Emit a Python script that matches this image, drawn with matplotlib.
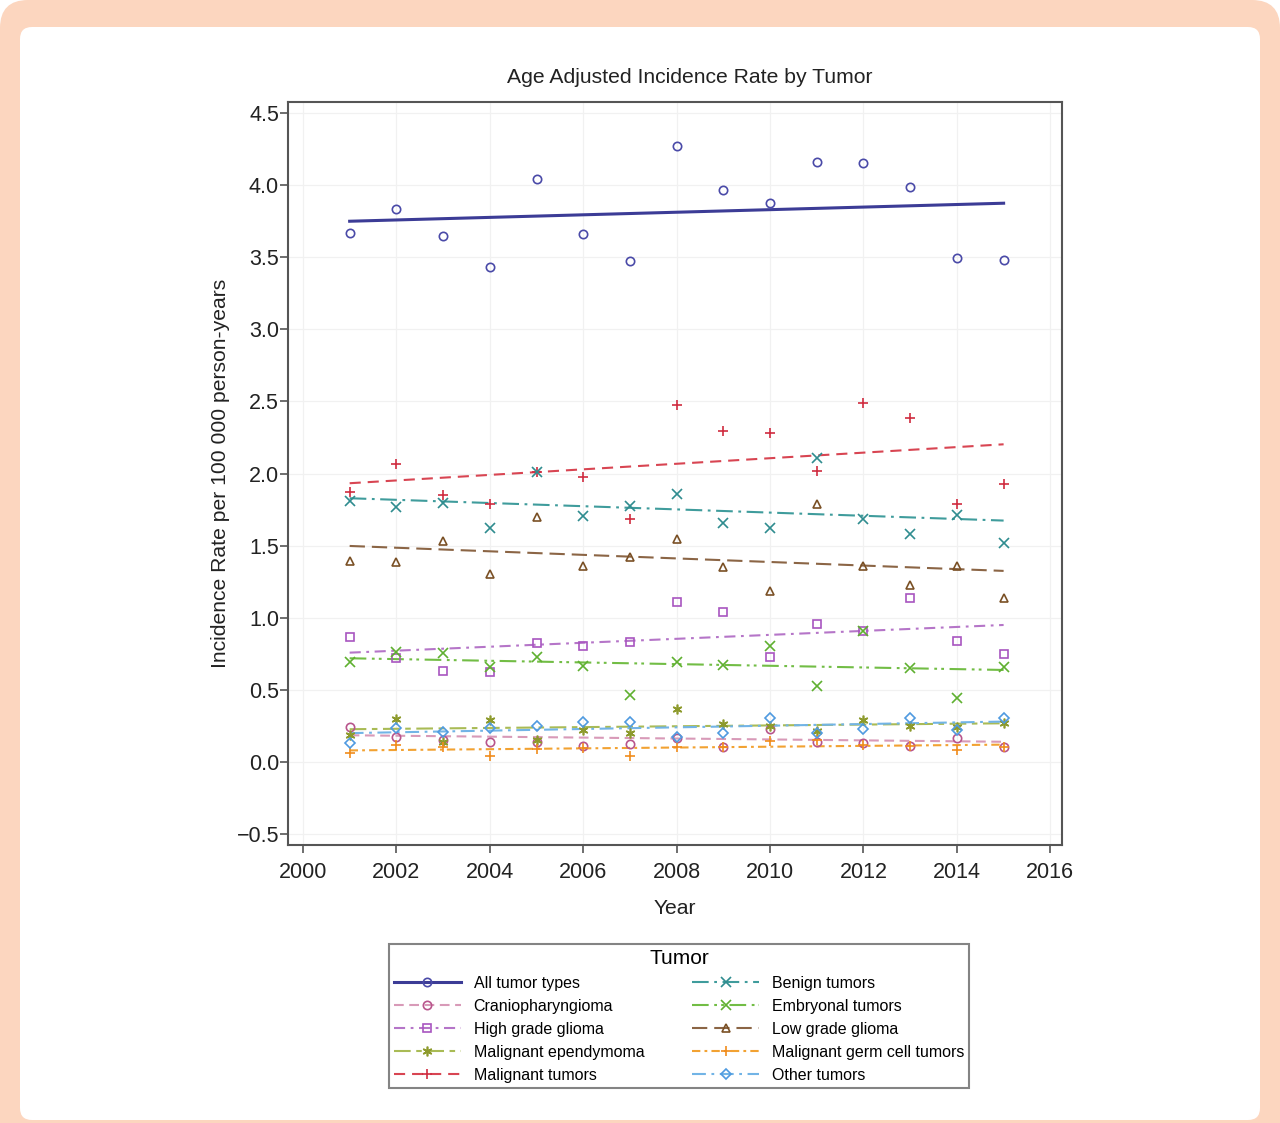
import matplotlib
matplotlib.use("Agg")
import matplotlib.pyplot as plt
from matplotlib.lines import Line2D
from matplotlib.patches import FancyBboxPatch
from matplotlib.transforms import IdentityTransform

plt.rcParams['font.family'] = ['Liberation Sans', 'DejaVu Sans']
plt.rcParams['lines.scale_dashes'] = False

years = list(range(2001, 2016))
trend_years = [2001, 2015]

all_tumor = [3.67, 3.835, 3.65, 3.43, 4.04, 3.66, 3.475, 4.27, 3.97, 3.875, 4.16, 4.155, 3.99, 3.495, 3.48]
cranio = [0.245, 0.176, 0.15, 0.141, 0.137, 0.113, 0.123, 0.164, 0.106, 0.229, 0.141, 0.13, 0.113, 0.169, 0.106]
high_grade = [0.865, 0.719, 0.633, 0.622, 0.823, 0.804, 0.83, 1.112, 1.038, 0.73, 0.957, 0.908, 1.14, 0.839, 0.747]
ependymoma = [0.19, 0.298, 0.141, 0.291, 0.153, 0.222, 0.2, 0.367, 0.261, 0.25, 0.215, 0.291, 0.252, 0.24, 0.268]
malignant = [1.875, 2.065, 1.85, 1.787, 2.013, 1.979, 1.685, 2.476, 2.295, 2.28, 2.02, 2.49, 2.385, 1.787, 1.928]
benign = [1.812, 1.771, 1.798, 1.62, 2.009, 1.706, 1.778, 1.856, 1.655, 1.62, 2.11, 1.683, 1.579, 1.713, 1.521]
embryonal = [0.691, 0.765, 0.754, 0.661, 0.73, 0.666, 0.465, 0.696, 0.673, 0.807, 0.527, 0.905, 0.654, 0.446, 0.661]
low_grade = [1.394, 1.385, 1.535, 1.304, 1.701, 1.361, 1.419, 1.544, 1.355, 1.186, 1.787, 1.361, 1.227, 1.361, 1.135]
germ_cell = [0.06, 0.118, 0.106, 0.044, 0.09, 0.099, 0.042, 0.106, 0.106, 0.146, 0.15, 0.12, 0.113, 0.083, 0.106]
other = [0.13, 0.234, 0.206, 0.234, 0.252, 0.275, 0.28, 0.17, 0.2, 0.307, 0.2, 0.229, 0.307, 0.222, 0.307]

# fitted trend values at 2001 and 2015
trend_all = [3.75, 3.875]
trend_cranio = [0.185, 0.14]
trend_high = [0.758, 0.95]
trend_epend = [0.227, 0.268]
trend_malig = [1.933, 2.203]
trend_benign = [1.829, 1.674]
trend_embryo = [0.719, 0.638]
trend_low = [1.498, 1.325]
trend_germ = [0.08, 0.12]
trend_other = [0.2, 0.28]

labels = ["All tumor types", "Craniopharyngioma", "High grade glioma", "Malignant ependymoma",
          "Malignant tumors", "Benign tumors", "Embryonal tumors", "Low grade glioma",
          "Malignant germ cell tumors", "Other tumors"]
values = [all_tumor, cranio, high_grade, ependymoma, malignant, benign, embryonal, low_grade, germ_cell, other]
trends = [trend_all, trend_cranio, trend_high, trend_epend, trend_malig, trend_benign, trend_embryo,
          trend_low, trend_germ, trend_other]

styles = [
    dict(color='#3c3c96', mcolor='#4a4aa8', ls='-', marker='o', lw=2.2),
    dict(color='#d89ab8', mcolor='#b8558c', ls=(0, (7, 4)), marker='o', lw=1.5),
    dict(color='#b575c8', mcolor='#a855c0', ls=(0, (8, 4, 2, 4)), marker='s', lw=1.5),
    dict(color='#a9bb55', mcolor='#8d9a2c', ls=(0, (12, 4, 4, 4)), marker=(6, 2, 0), lw=1.5),
    dict(color='#d84552', mcolor='#d02c40', ls=(0, (8, 5)), marker='+', lw=1.5),
    dict(color='#3f9c9c', mcolor='#2f8c8f', ls=(0, (12, 4, 2, 4)), marker='x', lw=1.5),
    dict(color='#72bd45', mcolor='#5fb030', ls=(0, (12, 4, 2, 3, 2, 4)), marker='x', lw=1.5),
    dict(color='#8b6545', mcolor='#7a5025', ls=(0, (11, 5)), marker='^', lw=1.5),
    dict(color='#f2a232', mcolor='#f08c1c', ls=(0, (6, 3, 2, 3)), marker='+', lw=1.5),
    dict(color='#72b4e6', mcolor='#4f9ae0', ls=(0, (10, 4, 2, 4)), marker='D', lw=1.5),
]

fig = plt.figure(figsize=(12.8, 11.23), dpi=100)
fig.patch.set_facecolor('white')
# peach frame and white card
fig.patches.append(FancyBboxPatch((0, -60), 1280, 1123 + 60, boxstyle="round,pad=0,rounding_size=28",
                                  transform=IdentityTransform(), facecolor='#fcd6bf', edgecolor='none', zorder=-10))
fig.patches.append(FancyBboxPatch((20, 3), 1240, 1123 - 27 - 3, boxstyle="round,pad=0,rounding_size=12",
                                  transform=IdentityTransform(), facecolor='white', edgecolor='none', zorder=-9))

ax = fig.add_axes([288 / 1280, 1 - 845 / 1123, (1062 - 288) / 1280, (845 - 102) / 1123])
ax.set_facecolor('white')

handles = []
for lab, v, tr, st in zip(labels, values, trends, styles):
    ms = 6 if st['marker'] not in ('+', 'x', (6, 2, 0)) else 7
    if st['marker'] == 'D':
        ms = 5.5
    ax.plot(trend_years, tr, color=st['color'], linestyle=st['ls'], lw=st['lw'], zorder=2)
    ax.plot(years, v, linestyle='none', marker=st['marker'], ms=ms, mfc='none',
            mec=st['mcolor'], mew=1.2, zorder=3)
    handles.append(Line2D([], [], color=st['color'], linestyle=st['ls'], lw=st['lw'],
                          marker=st['marker'], ms=ms, mfc='none', mec=st['mcolor'], mew=1.2))

ax.set_xlim(1999.68, 2016.25)
ax.set_ylim(-0.576, 4.577)
ax.set_xticks(range(2000, 2017, 2))
ax.set_yticks([-0.5, 0.0, 0.5, 1.0, 1.5, 2.0, 2.5, 3.0, 3.5, 4.0, 4.5])
ax.set_yticklabels(['\u22120.5', '0.0', '0.5', '1.0', '1.5', '2.0', '2.5', '3.0', '3.5', '4.0', '4.5'])
ax.grid(True, color='#f1f1f1', lw=0.9)
ax.set_axisbelow(True)
for s in ax.spines.values():
    s.set_color('#555555')
    s.set_linewidth(1.5)
ax.tick_params(axis='both', direction='out', length=6, width=1.2, color='#555555',
               labelsize=15.5, labelcolor='#222222')
ax.tick_params(axis='y', pad=0.5)
ax.tick_params(axis='x', pad=6)
ax.set_title("Age Adjusted Incidence Rate by Tumor", fontsize=15.2, color='#222222', pad=14,
             x=(690 - 288) / 774)
ax.set_xlabel("Year", fontsize=15.2, color='#222222', labelpad=12)
ax.set_ylabel("Incidence Rate per 100 000 person-years", fontsize=15.2, color='#222222', labelpad=5)

leg = fig.legend(handles, labels, ncol=2, title='Tumor', title_fontsize=15, fontsize=11.5,
                 loc='upper left', bbox_to_anchor=(389 / 1280, 1 - 1088 / 1123, 580 / 1280, 144 / 1123),
                 mode='expand', frameon=True, fancybox=False, edgecolor='#666666',
                 handlelength=4.2, handletextpad=0.8, labelspacing=0.5, borderpad=0.3,
                 columnspacing=1.0, borderaxespad=0)
leg.get_frame().set_linewidth(1.5)

fig.savefig('out.png', dpi=100)
